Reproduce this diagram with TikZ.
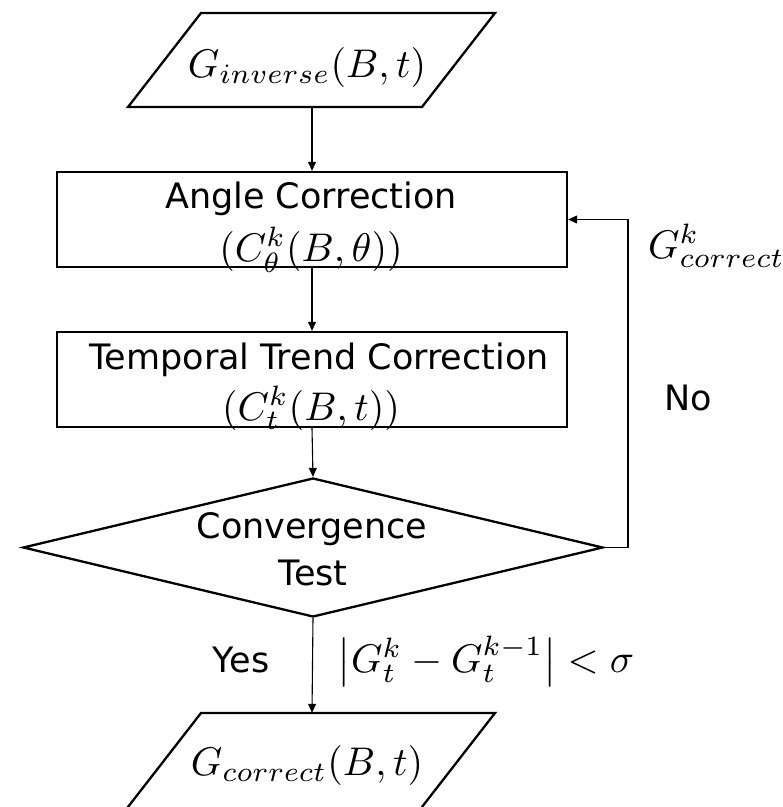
\documentclass[tikz,border=0pt]{standalone}
\usepackage[no-math]{fontspec}
\setmainfont{DejaVu Sans}
\usetikzlibrary{shapes.geometric,arrows.meta}
\newcommand{\mymath}[1]{\scalebox{4}{\fontsize{10}{12}\selectfont$#1$}}
\begin{document}
\begin{tikzpicture}[x=1pt,y=-1pt,
  boxline/.style={draw=black,line width=2.3pt},
  procbox/.style={boxline,rectangle,minimum width=510pt,minimum height=95pt,inner sep=0pt},
  iohold/.style={rectangle,minimum width=294pt,minimum height=94pt,inner sep=0pt},
  decide/.style={boxline,diamond,minimum width=580pt,minimum height=139pt,inner sep=0pt},
  flow/.style={draw=black,line width=1.1pt,-{Triangle[length=9pt,width=8pt]}},
  lbl/.style={inner sep=0pt,font=\fontsize{35}{42}\selectfont},
  mlbl/.style={inner sep=0pt}]
\useasboundingbox (0,0) rectangle (783,807);

% input parallelogram
\node[iohold] (in) at (312,60) {};
\draw[boxline,line join=miter] (201,13) -- (495,13) -- (422,107) -- (128,107) -- cycle;
\node[mlbl,anchor=base] (intext) at (307,77) {\mymath{G_{inverse}(B,t)}};

% angle correction
\node[procbox] (b1) at (312,219.5) {};
\node[lbl,anchor=base] (b1a) at (311,208) {Angle Correction};
\node[mlbl,anchor=base] (b1b) at (311,261) {\mymath{(C^k_\theta(B,\theta))}};

% temporal trend correction
\node[procbox] (b2) at (312,379.5) {};
\node[lbl,anchor=base] (b2a) at (319,369) {Temporal Trend Correction};
\node[mlbl,anchor=base] (b2b) at (311,420) {\mymath{(C^k_t(B,t))}};

% convergence test
\node[decide] (test) at (313,547.5) {};
\node[lbl,anchor=base] (ta) at (312,538) {Convergence};
\node[lbl,anchor=base] (tb) at (313,585) {Test};

% output parallelogram
\node[iohold] (out) at (312,760) {};
\draw[boxline,line join=miter] (201,713) -- (495,713) -- (420.4,809) -- (126.4,809) -- cycle;
\node[mlbl,anchor=base] (outtext) at (307,775) {\mymath{G_{correct}(B,t)}};

% labels
\node[lbl,anchor=base] (yes) at (241,672) {Yes};
\node[mlbl] (cond) at (486,661) {\mymath{\left|G^k_t-G^{k-1}_t\right|<\sigma}};
\node[mlbl,anchor=base west] (gk) at (648,258) {\mymath{G^k_{correct}}};
\node[lbl,anchor=base] (no) at (688,410) {No};

% connectors
\draw[flow] (in.south) -- (b1.north);
\draw[flow] (b1.south) -- (b2.north);
\draw[flow] (b2.south) -- (test.north);
\draw[flow] (test.south) -- (out.north);
\coordinate (fb) at (628,547.5);
\draw[flow] (test.east) -- (fb) |- (b1.east);
\end{tikzpicture}
\end{document}
